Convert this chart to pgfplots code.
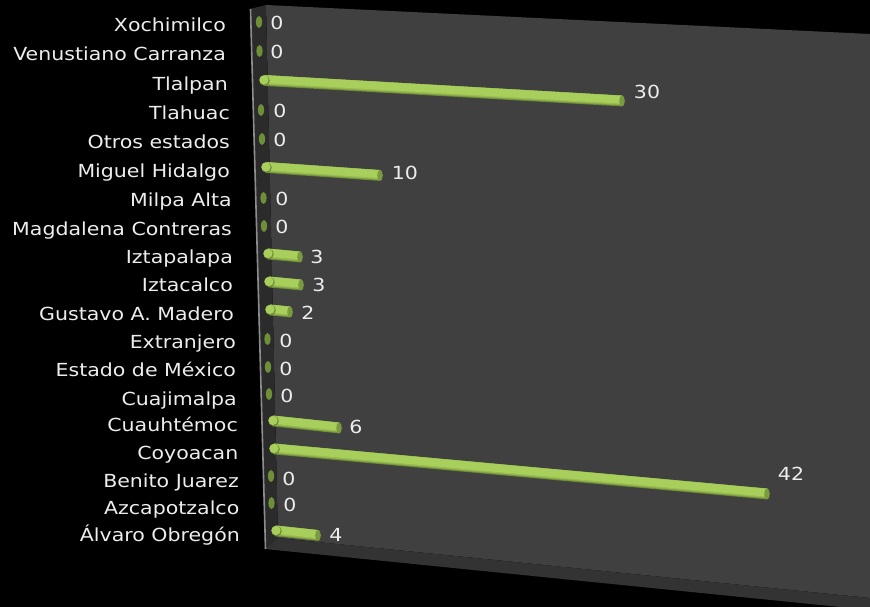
\documentclass[border=0pt]{standalone}
\usepackage{fontspec}
\setmainfont[FakeStretch=1.14]{DejaVu Sans}
\usepackage{pgfplots}
\usepackage{pgfplotstable}
\pgfplotsset{compat=1.18}

\definecolor{wall}{HTML}{404040}
\definecolor{sidewall}{HTML}{2B2B2B}
\definecolor{floorc}{HTML}{333333}
\definecolor{edgec}{HTML}{8C8C8C}
\definecolor{bardark}{HTML}{6B8836}
\definecolor{barlow}{HTML}{84A343}
\definecolor{barmid}{HTML}{97BB50}
\definecolor{barlight}{HTML}{A8CE5C}
\definecolor{capc}{HTML}{7A9A3E}
\definecolor{zeroc}{HTML}{6E8F38}
\definecolor{labelc}{HTML}{EDEDED}

% pixel positions: bar start, bar end, value label, name baseline
\pgfplotstableread[col sep=comma]{
name,value,x0,y0,x1,y1,vx,vy,nx,ny
Xochimilco,0,259,22,259,22,277,23,226,31.7
Venustiano Carranza,0,259.5,51,259.5,51,277,52,226,61
Tlalpan,30,264,80.5,622,101,647,92,228,90.7
Tlahuac,0,261,110,261,110,280,111,230,120
Otros estados,0,262,139,262,139,280,140,230,149
Miguel Hidalgo,10,266,167.5,380,175.5,405,173,230,178
Milpa Alta,0,263.5,198,263.5,198,282,199,232,206.7
Magdalena Contreras,0,264,226,264,226,282,227,232,235
Iztapalapa,3,268,254,300,257,317,257,233,263.3
Iztacalco,3,269,282,301,285,319,285,233,291.7
Gustavo A. Madero,2,270,310,290,312,308,313,234,320
Extranjero,0,267.5,339,267.5,339,286,341,236,348
Estado de México,0,268,367,268,367,286,369,236,376.7
Cuajimalpa,0,269,394,269,394,287,396,237,405
Cuauhtémoc,6,273,421,339,428,356,427,238,431.7
Coyoacan,42,274,449,767,494,791,474,238.5,459.3
Benito Juarez,0,271,476,271,476,289,479,239,487.3
Azcapotzalco,0,271.5,503,271.5,503,290,505,239.5,514
Álvaro Obregón,4,276,531,318,535.5,336,535,240,541.7
}\bars

\pgfdeclareplotmark{barcap}{%
  \pgfpathellipse{\pgfpointorigin}{\pgfqpoint{2.8pt}{0pt}}{\pgfqpoint{0pt}{5.6pt}}%
  \pgfusepathqfill}
\pgfdeclareplotmark{zerocap}{%
  \pgfpathellipse{\pgfpointorigin}{\pgfqpoint{3.1pt}{0pt}}{\pgfqpoint{0pt}{6pt}}%
  \pgfusepathqfill}
\pgfdeclareplotmark{startcap}{%
  \pgfpathcircle{\pgfpointorigin}{\pgfplotmarksize}%
  \pgfusepathqfill}

\pgfplotsset{
  nonzero/.style={restrict expr to domain={\thisrow{value}}{1:100}},
  barstart/.style n args={2}{color=#2, only marks, mark=startcap, mark size=#1, nonzero},
  barbody/.style n args={2}{color=#2, nonzero, quiver={u=\thisrow{x1}-\thisrow{x0}, v=\thisrow{y1}-\thisrow{y0},
      every arrow/.append style={line width=#1, line cap=butt}}},
}

\begin{document}
\begin{tikzpicture}
\begin{axis}[
    scale only axis, width=870pt, height=607pt,
    xmin=0, xmax=870, ymin=0, ymax=607, y dir=reverse,
    hide axis,
    every node near coord/.append style={text=labelc, font=\fontsize{18}{20}\selectfont},
]
  % background and 3D walls
  \addplot[fill=black, draw=none] coordinates {(0,0)(870,0)(870,607)(0,607)} -- cycle;
  \addplot[fill=wall, draw=none] coordinates {(266,5)(870,34)(870,598)(278,538)} -- cycle;
  \addplot[fill=sidewall, draw=none] coordinates {(250,9)(266,5)(278,538)(265,549)} -- cycle;
  \addplot[fill=floorc, draw=none] coordinates {(278,538)(870,598)(870,610)(265,549)} -- cycle;
  \addplot[edgec, line width=1.6pt] coordinates {(250.5,9)(265.5,549)};

  % bars, dark to light
  \addplot[barstart={5.2pt}{bardark}] table[x expr=\thisrow{x0}+0.6, y=y0] {\bars};
  \addplot[barbody={10.8pt}{bardark}] table[x=x0, y=y0] {\bars};
  \addplot[barbody={10pt}{barlow}] table[x=x0, y expr=\thisrow{y0}-0.4] {\bars};
  \addplot[barbody={9.2pt}{barmid}] table[x=x0, y expr=\thisrow{y0}-0.8] {\bars};
  \addplot[barstart={4.7pt}{barlight}] table[x=x0, y expr=\thisrow{y0}-0.6] {\bars};
  \addplot[barbody={7.8pt}{barlight}] table[x=x0, y expr=\thisrow{y0}-1.3] {\bars};
  % end caps, the zero rows show only this
  \addplot[only marks, mark=barcap, capc, nonzero] table[x=x1, y=y1] {\bars};
  \addplot[only marks, mark=zerocap, zeroc, restrict expr to domain={\thisrow{value}}{-1:0}]
    table[x=x1, y=y1] {\bars};

  % names and values
  \addplot[only marks, mark=none, point meta=explicit symbolic, nodes near coords,
      every node near coord/.append style={anchor=base east, inner sep=0pt}]
    table[x=nx, y=ny, meta=name] {\bars};
  \addplot[only marks, mark=none, point meta=explicit symbolic, nodes near coords,
      every node near coord/.append style={anchor=center, inner sep=0pt}]
    table[x=vx, y=vy, meta=value] {\bars};
\end{axis}
\end{tikzpicture}
\end{document}
